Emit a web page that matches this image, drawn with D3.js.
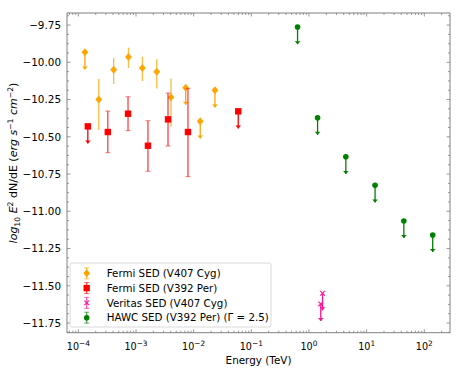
<!DOCTYPE html>
<html><head><meta charset="utf-8">
<script src="https://cdn.jsdelivr.net/npm/d3@7"></script>
<style>body{margin:0;background:#fff}svg{display:block;font-family:"DejaVu Sans",sans-serif}</style>
</head><body><svg id="c" width="463" height="371"></svg>
<script>
// ---- data (log10 E^2 dN/dE vs Energy in TeV) ----
const fermiCygE  = [1.3e-4, 2.26e-4, 4.1e-4, 7.4e-4, 1.29e-3, 2.29e-3, 4.05e-3, 7.27e-3, 1.3e-2, 2.34e-2];
const fermiCygF  = [-9.933, -10.249, -10.05, -9.965, -10.039, -10.063, -10.235, -10.17, -10.396, -10.188];
const fermiCygHi = [null, -10.112, -9.969, -9.902, -9.963, -9.98, -10.108, null, null, null];
const fermiCygLo = [null, -10.455, -10.146, -10.037, -10.126, -10.175, -10.432, null, null, null];
const fermiCygUL = [true, false, false, false, false, false, false, true, true, true];

const fermiPerE  = [1.46e-4, 3.24e-4, 7.27e-4, 1.61e-3, 3.59e-3, 7.96e-3, 5.93e-2];
const fermiPerF  = [-10.43, -10.468, -10.345, -10.56, -10.383, -10.468, -10.329];
const fermiPerHi = [null, -10.327, -10.231, -10.392, -10.206, -10.175, null];
const fermiPerLo = [null, -10.607, -10.459, -10.732, -10.562, -10.768, null];
const fermiPerUL = [true, false, false, false, false, false, true];

const veritasE  = [1.6, 1.72];
const veritasF  = [-11.622, -11.55];
const veritasUL = [true, true];

const hawcE  = [0.634, 1.41, 4.36, 14.0, 44.2, 140];
const hawcF  = [-9.763, -10.372, -10.634, -10.826, -11.065, -11.159];
const hawcUL = [true, true, true, true, true, true];

const ulLength = 0.115; // length of upper-limit arrows (dex)

const xTicks = [1e-4, 1e-3, 1e-2, 1e-1, 1e0, 1e1, 1e2];
const yTicks = [-9.75, -10.0, -10.25, -10.5, -10.75, -11.0, -11.25, -11.5, -11.75];
const legendLabels = ["Fermi SED (V407 Cyg)", "Fermi SED (V392 Per)", "Veritas SED (V407 Cyg)", "HAWC SED (V392 Per) (Γ = 2.5)"];

// ---- layout ----
const L = 67, R = 450, T = 13, B = 332.7;
const svg = d3.select("#c");
const x = d3.scaleLog().domain([Math.pow(10, -4.197), Math.pow(10, 2.446)]).range([L, R]);
const y = d3.scaleLinear().domain([-11.815, -9.669]).range([B, T]);
const frameCol = "#808080";

svg.append("rect").attr("x", L).attr("y", T).attr("width", R - L).attr("height", B - T)
  .attr("fill", "none").attr("stroke", frameCol).attr("stroke-width", 1);

const g = svg.append("g").attr("stroke", frameCol).attr("stroke-width", 0.8);
const minorX = [];
for (let d = -5; d <= 2; d++) for (let k = 2; k <= 9; k++) { const v = k * Math.pow(10, d); if (v > x.domain()[0] && v < x.domain()[1]) minorX.push(v); }
xTicks.forEach(v => {
  const px = x(v);
  g.append("line").attr("x1", px).attr("x2", px).attr("y1", B).attr("y2", B - 3.5);
  g.append("line").attr("x1", px).attr("x2", px).attr("y1", T).attr("y2", T + 3.5);
});
minorX.forEach(v => {
  const px = x(v);
  g.append("line").attr("x1", px).attr("x2", px).attr("y1", B).attr("y2", B - 2);
  g.append("line").attr("x1", px).attr("x2", px).attr("y1", T).attr("y2", T + 2);
});
const minorY = d3.range(-11.8125, -9.66, 0.0625).filter(v => v > y.domain()[0] && v < y.domain()[1] && !yTicks.some(t => Math.abs(t - v) < 1e-6));
yTicks.forEach(v => {
  const py = y(v);
  g.append("line").attr("x1", L).attr("x2", L + 3.5).attr("y1", py).attr("y2", py);
  g.append("line").attr("x1", R).attr("x2", R - 3.5).attr("y1", py).attr("y2", py);
});
minorY.forEach(v => {
  const py = y(v);
  g.append("line").attr("x1", L).attr("x2", L + 2).attr("y1", py).attr("y2", py);
  g.append("line").attr("x1", R).attr("x2", R - 2).attr("y1", py).attr("y2", py);
});

const fmtY = d3.format(".2f");
yTicks.forEach(v => {
  svg.append("text").attr("x", L - 6).attr("y", y(v)).attr("dy", "0.36em")
    .attr("text-anchor", "end").attr("font-size", 10.4).attr("fill", "#000").text(fmtY(v));
});
xTicks.forEach(v => {
  const e = Math.round(Math.log10(v));
  const t = svg.append("text").attr("x", x(v)).attr("y", 350).attr("text-anchor", "middle")
    .attr("font-size", 9.6).attr("fill", "#000");
  t.append("tspan").text("10");
  t.append("tspan").attr("dy", -4.5).attr("font-size", 7.4).text(e < 0 ? "\u2212" + (-e) : String(e));
});

svg.append("text").attr("x", (L + R) / 2).attr("y", 364).attr("text-anchor", "middle")
  .attr("font-size", 10.4).text("Energy (TeV)");
const yl = svg.append("text").attr("transform", `translate(17,163) rotate(-90)`)
  .attr("text-anchor", "middle").attr("font-size", 11);
yl.append("tspan").attr("font-style", "italic").text("log");
yl.append("tspan").attr("font-size", 7.7).attr("dy", 2.6).text("10");
yl.append("tspan").attr("dy", -2.6).text(" ");
yl.append("tspan").attr("font-style", "italic").text("E");
yl.append("tspan").attr("font-size", 7.7).attr("dy", -4.3).text("2");
yl.append("tspan").attr("dy", 4.3).text(" dN/dE (");
yl.append("tspan").attr("font-style", "italic").text("erg s");
yl.append("tspan").attr("font-size", 7.7).attr("dy", -4.3).text("\u22121");
yl.append("tspan").attr("dy", 4.3).attr("font-style", "italic").text(" cm");
yl.append("tspan").attr("font-size", 7.7).attr("dy", -4.3).text("\u22122");
yl.append("tspan").attr("dy", 4.3).text(")");

function marker(sel, kind, cx, cy, col) {
  if (kind === "diamond") {
    const s = 4;
    sel.append("path").attr("d", `M${cx},${cy - s}L${cx + s * 0.85},${cy}L${cx},${cy + s}L${cx - s * 0.85},${cy}Z`).attr("fill", col);
  } else if (kind === "square") {
    sel.append("rect").attr("x", cx - 3.2).attr("y", cy - 3.2).attr("width", 6.4).attr("height", 6.4).attr("fill", col);
  } else if (kind === "circle") {
    sel.append("circle").attr("cx", cx).attr("cy", cy).attr("r", 2.8).attr("fill", col);
  } else if (kind === "x") {
    const s = 2.3;
    sel.append("path").attr("d", `M${cx - s},${cy - s}L${cx + s},${cy + s}M${cx - s},${cy + s}L${cx + s},${cy - s}`).attr("stroke", col).attr("stroke-width", 1.1);
  }
}
function series(E, F, Hi, Lo, UL, col, kind, caps) {
  const sg = svg.append("g");
  E.forEach((e, i) => {
    const cx = x(e), cy = y(F[i]);
    if (UL[i]) {
      const yb = y(F[i] - ulLength);
      sg.append("line").attr("x1", cx).attr("x2", cx).attr("y1", cy).attr("y2", yb)
        .attr("stroke", col).attr("stroke-width", 1.3);
      sg.append("path").attr("d", `M${cx - 2.8},${yb - 3}L${cx + 2.8},${yb - 3}L${cx},${yb}Z`).attr("fill", col);
    } else if (Hi && Hi[i] != null) {
      const y1 = y(Hi[i]), y2 = y(Lo[i]);
      sg.append("line").attr("x1", cx).attr("x2", cx).attr("y1", y1).attr("y2", y2)
        .attr("stroke", col).attr("stroke-width", 1.3).attr("opacity", 0.75);
      if (caps) {
        [y1, y2].forEach(yy => sg.append("line").attr("x1", cx - 2.5).attr("x2", cx + 2.5).attr("y1", yy).attr("y2", yy)
          .attr("stroke", col).attr("stroke-width", 1).attr("opacity", 0.5));
      }
    }
    marker(sg, kind, cx, cy, col);
  });
}
const cOrange = "#ffa500", cRed = "#ff0000", cPink = "#ff1493", cGreen = "#008000";
series(fermiCygE, fermiCygF, fermiCygHi, fermiCygLo, fermiCygUL, cOrange, "diamond", false);
series(fermiPerE, fermiPerF, fermiPerHi, fermiPerLo, fermiPerUL, cRed, "square", true);
series(veritasE, veritasF, null, null, veritasUL, cPink, "x", true);
series(hawcE, hawcF, null, null, hawcUL, cGreen, "circle", true);

const lg = svg.append("g");
lg.append("rect").attr("x", 70).attr("y", 263).attr("width", 201).attr("height", 64).attr("rx", 2)
  .attr("fill", "#fff").attr("fill-opacity", 0.8).attr("stroke", "#d0d0d0").attr("stroke-width", 0.8);
const lcols = [cOrange, cRed, cPink, cGreen], lkinds = ["diamond", "square", "x", "circle"];
legendLabels.forEach((lab, i) => {
  const cy = 273.3 + i * 14.8, cx = 86.7;
  lg.append("line").attr("x1", cx).attr("x2", cx).attr("y1", cy - 5.5).attr("y2", cy + 5.5)
    .attr("stroke", lcols[i]).attr("stroke-width", 1.2).attr("opacity", 0.75);
  [cy - 5.5, cy + 5.5].forEach(yy => lg.append("line").attr("x1", cx - 2.5).attr("x2", cx + 2.5).attr("y1", yy).attr("y2", yy)
    .attr("stroke", lcols[i]).attr("stroke-width", 1).attr("opacity", 0.6));
  marker(lg, lkinds[i], cx, cy, lcols[i]);
  lg.append("text").attr("x", 106.7).attr("y", cy).attr("dy", "0.36em").attr("font-size", 10.3).text(lab);
});
</script></body></html>
